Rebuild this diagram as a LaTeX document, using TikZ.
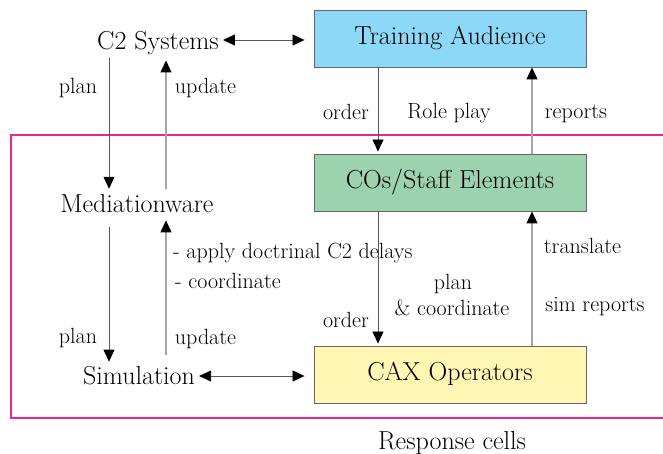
\documentclass[tikz,border=0pt]{standalone}
\usetikzlibrary{arrows.meta}
\definecolor{audblue}{HTML}{8DD8F7}
\definecolor{staffgreen}{HTML}{9CD3AE}
\definecolor{caxyellow}{HTML}{FFF7B3}
\definecolor{cellpink}{HTML}{E8268F}
\tikzset{
  box/.style={draw=black!60, line width=0.9pt, minimum width=272pt, minimum height=57pt,
              inner sep=0pt, font=\fontsize{26}{30}\selectfont},
  title/.style={inner sep=0pt, anchor=base, font=\fontsize{26}{30}\selectfont},
  lbl/.style={inner sep=0pt, anchor=base, font=\fontsize{22}{26}\selectfont},
  lblw/.style={inner sep=0pt, anchor=base west, font=\fontsize{22}{26}\selectfont},
  tipend/.style={-{Triangle[length=12pt,width=11pt,color=black]}},
  downline/.style={draw=black!65, line width=0.8pt, tipend},
  upline/.style={draw=black!35, line width=1.1pt, tipend},
  twoway/.style={draw=black!65, line width=0.8pt, shorten >=9pt,
     {Triangle[length=12pt,width=11pt,color=black]}-{Triangle[length=12pt,width=11pt,color=black]}},
}
\begin{document}
\begin{tikzpicture}[x=1pt,y=-1pt]
\useasboundingbox (0,0) rectangle (663,454);

% response cell frame (open to the right)
\draw[draw=cellpink, line width=1.2pt] (663,135) -- (11,135) -- (11,418) -- (663,418);

% role boxes
\node[box, fill=audblue]    (ta)  at (450,38.5)  {\strut Training Audience};
\node[box, fill=staffgreen] (co)  at (450,182.5) {\strut COs/Staff Elements};
\node[box, fill=caxyellow]  (cax) at (450,374.5) {\strut CAX Operators};

% left column of systems
\node[title] (c2)  at (158,50)  {C2 Systems};
\node[title] (med) at (137,213) {Mediationware};
\node[title] (sim) at (139,384) {Simulation};
\node[title] (rc)  at (452,449) {Response cells};

% columns for the vertical connectors
\coordinate (xp) at (109,0);
\coordinate (xu) at (166,0);
\coordinate (xl) at (378,0);
\coordinate (xr) at (532,0);

% system links
\draw[twoway] (c2.base east) ++(4,-10) coordinate (c2e) (c2e) -- (c2e -| ta.west);
\draw[twoway] (sim.base east) ++(4,-8) coordinate (sime) (sime) -- (sime -| cax.west);

\draw[downline, shorten <=3pt, shorten >=6pt] (c2.south -| xp) -- (med.north -| xp);
\draw[upline, shorten <=6pt, shorten >=5pt] (med.north -| xu) -- (c2.south -| xu);
\draw[downline, shorten <=14pt, shorten >=4pt] (med.south -| xp) -- (sim.north -| xp);
\draw[upline, shorten <=11pt, shorten >=7pt] (sim.north -| xu) -- (med.south -| xu);

% exercise links
\draw[downline, shorten >=2pt] (ta.south -| xl) -- (co.north -| xl);
\draw[upline] (co.north -| xr) -- (ta.south -| xr);
\draw[downline, shorten >=2pt] (co.south -| xl) -- (cax.north -| xl);
\draw[upline] (cax.north -| xr) -- (co.south -| xr);

% connector labels
\node[lbl] (l1) at (78,94)    {plan};
\node[lbl] (l2) at (205.5,94) {update};
\node[lbl] (l3) at (346,120)  {order};
\node[lbl] (l4) at (449,119)  {Role play};
\node[lbl] (l5) at (576,119)  {reports};
\node[lblw] (l6) at (173,258) {- apply doctrinal C2 delays};
\node[lblw] (l7) at (175,288) {- coordinate};
\node[lbl] (l8) at (78,343)   {plan};
\node[lbl] (l9) at (205.5,344) {update};
\node[lbl] (l10) at (582.5,253) {translate};
\node[lbl] (l11) at (453,289) {plan};
\node[lbl] (l12) at (452,315) {\& coordinate};
\node[lbl] (l13) at (595,311) {sim reports};
\node[lbl] (l14) at (346,327) {order};
\end{tikzpicture}
\end{document}
